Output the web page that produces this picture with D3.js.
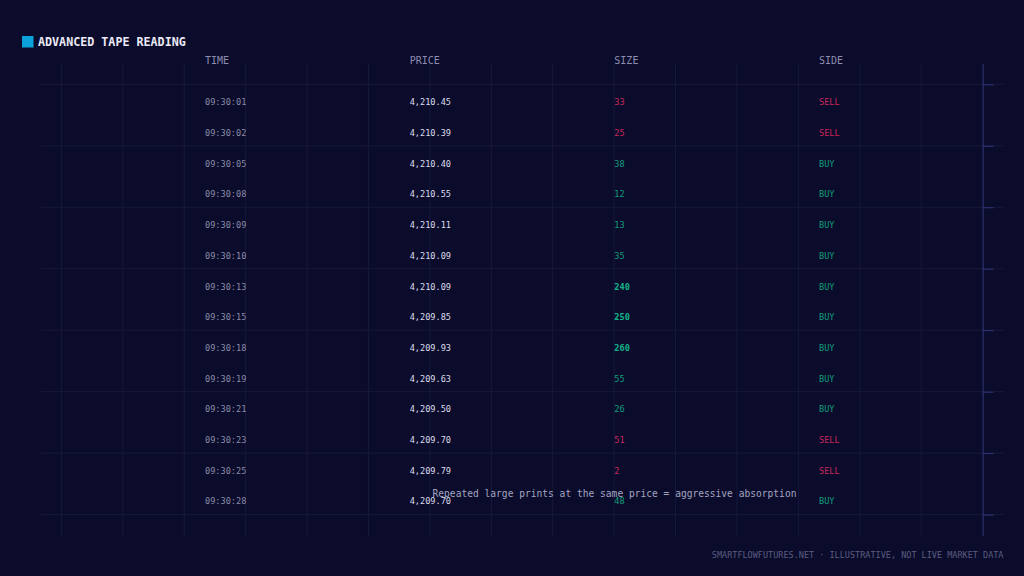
<!DOCTYPE html>
<html>
<head>
<meta charset="utf-8">
<script src="https://cdn.jsdelivr.net/npm/d3@7"></script>
<style>
  html, body { margin: 0; padding: 0; background: #0b0c2b; }
  svg { display: block; }
</style>
</head>
<body>
<svg id="chart" width="1024" height="576"></svg>
<script>
// ----- data -----
const columns = ["TIME", "PRICE", "SIZE", "SIDE"];
const times = ["09:30:01", "09:30:02", "09:30:05", "09:30:08", "09:30:09", "09:30:10", "09:30:13",
               "09:30:15", "09:30:18", "09:30:19", "09:30:21", "09:30:23", "09:30:25", "09:30:28"];
const prices = [4210.45, 4210.39, 4210.40, 4210.55, 4210.11, 4210.09, 4210.09,
                4209.85, 4209.93, 4209.63, 4209.50, 4209.70, 4209.79, 4209.70];
const sizes = [33, 25, 38, 12, 13, 35, 240, 250, 260, 55, 26, 51, 2, 48];
const sides = ["SELL", "SELL", "BUY", "BUY", "BUY", "BUY", "BUY",
               "BUY", "BUY", "BUY", "BUY", "SELL", "SELL", "BUY"];
const gridX = d3.range(1, 16);
const gridY = d3.range(0, 8);
const bigPrint = 200;

const svg = d3.select("#chart");
const mono = "'DejaVu Sans Mono', monospace";

svg.append("rect").attr("width", 1024).attr("height", 576).attr("fill", "#0b0c2b");

// ----- scales -----
const xg = d3.scaleLinear().domain([0, 16]).range([0, 982.6]);
const yg = d3.scaleLinear().domain([0, 7]).range([84.3, 514.6]);
const col = d3.scalePoint().domain(columns).range([205, 819]);
const row = d3.scaleLinear().domain([0, times.length - 1]).range([105.3, 504.4]);

// ----- grid -----
const grid = svg.append("g");
grid.selectAll(".gx").data(gridX).enter().append("line")
    .attr("x1", d => xg(d)).attr("x2", d => xg(d))
    .attr("y1", 64).attr("y2", 536)
    .attr("stroke", "#17183d").attr("stroke-width", 1);
grid.selectAll(".gy").data(gridY).enter().append("line")
    .attr("x1", 41).attr("x2", 1004)
    .attr("y1", d => yg(d)).attr("y2", d => yg(d))
    .attr("stroke", "#17183d").attr("stroke-width", 1);

// axis on the right
const axis = d3.axisRight(yg).tickValues(gridY).tickSize(11).tickFormat("");
svg.append("g")
    .attr("transform", "translate(" + xg(16) + ",0)")
    .call(axis)
    .call(g => g.select(".domain").attr("d", "M0.5,64V536"))
    .call(g => g.selectAll("path, line").attr("stroke", "#33347a"));

// ----- title -----
svg.append("rect").attr("x", 22).attr("y", 36).attr("width", 11.5).attr("height", 11.5)
    .attr("fill", "#0aa2d8");
svg.append("text").attr("x", 38).attr("y", 45.5)
    .attr("font-family", mono).attr("font-size", 11.7).attr("font-weight", "bold")
    .attr("fill", "#eceaf6")
    .text("ADVANCED TAPE READING");

// ----- header -----
svg.selectAll(".hdr").data(columns).enter().append("text")
    .attr("x", d => col(d)).attr("y", 64.3)
    .attr("font-family", mono).attr("font-size", 10)
    .attr("fill", "#8d8db0")
    .text(d => d);

// ----- rows -----
const red = "#c9285c", green = "#0f9e7a", greenBold = "#13b489";
const fmt = d3.format(",.2f");
const body = svg.append("g").attr("font-family", mono).attr("font-size", 8.6);

times.forEach((t, i) => {
    const y = row(i);
    const sell = sides[i] === "SELL";
    const big = sizes[i] >= bigPrint;
    body.append("text").attr("x", col("TIME")).attr("y", y).attr("fill", "#8a8aa8").text(t);
    body.append("text").attr("x", col("PRICE")).attr("y", y).attr("fill", "#dcdcec").text(fmt(prices[i]));
    body.append("text").attr("x", col("SIZE")).attr("y", y)
        .attr("fill", sell ? red : (big ? greenBold : green))
        .attr("font-weight", big ? "bold" : "normal")
        .text(sizes[i]);
    body.append("text").attr("x", col("SIDE")).attr("y", y).attr("fill", sell ? red : green).text(sides[i]);
});

// ----- annotation & footer -----
svg.append("text").attr("x", 614.5).attr("y", 496.8)
    .attr("text-anchor", "middle")
    .attr("font-family", mono).attr("font-size", 9.6)
    .attr("fill", "#a4a4c2")
    .text("Repeated large prints at the same price = aggressive absorption");

svg.append("text").attr("x", 1003.5).attr("y", 558)
    .attr("text-anchor", "end")
    .attr("font-family", mono).attr("font-size", 8.5)
    .attr("fill", "#5c5c82")
    .text("SMARTFLOWFUTURES.NET · ILLUSTRATIVE, NOT LIVE MARKET DATA");
</script>
</body>
</html>
